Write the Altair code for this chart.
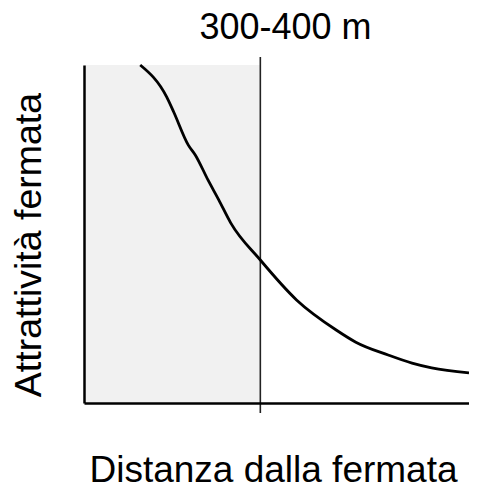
import altair as alt
import pandas as pd

# curve (x: distance 0-100, y: attractiveness 0-100)
dist = [14.6, 21.5, 23.3, 27.1, 28.9, 32.2, 35.0, 38.1, 45.8, 55.2, 65.5, 70.6, 79.0, 85.2, 90.3, 100.0]
attr = [100.0, 90.5, 86.1, 76.3, 73.4, 66.0, 60.1, 53.3, 42.3, 30.5, 21.6, 18.0, 14.2, 11.8, 10.4, 8.9]
zone_start = [0.0]
zone_end = [45.8]

curve_df = pd.DataFrame({"x": dist, "y": attr})
zone_df = pd.DataFrame({"x": zone_start, "x2": zone_end, "y": [0.0], "y2": [100.0]})
line_df = pd.DataFrame({"x": zone_end})

W = 385
xs = alt.Scale(domain=[0, 100], nice=False, zero=False)
ys = alt.Scale(domain=[0, 100], nice=False, zero=False)

title_font = dict(titleFont="Liberation Sans", titleFontWeight="normal", titleColor="black")

x_axis = alt.Axis(
    title="Distanza dalla fermata", labels=False, ticks=False, grid=False,
    domainColor="black", domainWidth=2.5, titleFontSize=37,
    titleX=189, titleY=78, titleBaseline="alphabetic", titleAnchor="middle",
    zindex=1, **title_font,
)
top_axis = alt.Axis(
    title="300-400 m", orient="top", labels=False, ticks=False, grid=False,
    domain=False, titleFontSize=36, titleX=201, titleY=-27,
    titleBaseline="alphabetic", titleAnchor="middle", **title_font,
)
y_axis = alt.Axis(
    title="Attrattività fermata", labels=False, ticks=False, grid=False,
    domainColor="black", domainWidth=2.5, titleFontSize=37.5,
    titleAngle=-90, titleX=-44, titleY=179.5, titleBaseline="alphabetic",
    titleAnchor="middle", zindex=1, **title_font,
)

zone = alt.Chart(zone_df).mark_rect(color="#f1f1f1").encode(
    x=alt.X("x:Q", scale=xs, axis=x_axis),
    x2="x2:Q",
    y=alt.Y("y:Q", scale=ys, axis=y_axis),
    y2="y2:Q",
)

vline = alt.Chart(line_df).mark_rule(color="#222222", strokeWidth=1.6).encode(
    x=alt.X("x:Q", scale=xs, axis=top_axis),
    y=alt.value(-8),
    y2=alt.value(348),
)

curve = alt.Chart(curve_df).mark_line(
    color="black", strokeWidth=2.8, interpolate="monotone"
).encode(
    x=alt.X("x:Q", scale=xs, axis=None),
    y=alt.Y("y:Q", scale=ys, axis=y_axis),
)

chart = alt.layer(zone, vline, curve).resolve_axis(x="independent").properties(
    width=W,
    height=338,
    background="white",
    autosize=alt.AutoSizeParams(type="none"),
    padding={"left": 76, "top": 57, "right": 0, "bottom": 79},
).configure_view(strokeWidth=0, stroke="transparent")

chart.save("out.html", embed_options={"renderer": "svg", "actions": False})
